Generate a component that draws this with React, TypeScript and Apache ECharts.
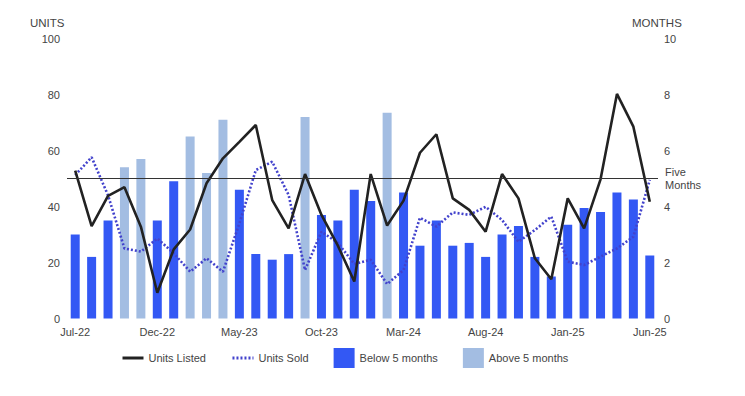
import React, { useEffect, useRef } from "react";
import * as echarts from "echarts";

const categories = [
  "Jul-22", "Aug-22", "Sep-22", "Oct-22", "Nov-22", "Dec-22",
  "Jan-23", "Feb-23", "Mar-23", "Apr-23", "May-23", "Jun-23",
  "Jul-23", "Aug-23", "Sep-23", "Oct-23", "Nov-23", "Dec-23",
  "Jan-24", "Feb-24", "Mar-24", "Apr-24", "May-24", "Jun-24",
  "Jul-24", "Aug-24", "Sep-24", "Oct-24", "Nov-24", "Dec-24",
  "Jan-25", "Feb-25", "Mar-25", "Apr-25", "May-25", "Jun-25",
];

// months of supply (right axis)
const monthsSupply = [
  3.0, 2.2, 3.5, 5.4, 5.7, 3.5, 4.9, 6.5, 5.2, 7.1, 4.6, 2.3,
  2.1, 2.3, 7.2, 3.7, 3.5, 4.6, 4.2, 7.35, 4.5, 2.6, 3.5, 2.6,
  2.7, 2.2, 3.0, 3.3, 2.2, 1.5, 3.35, 3.95, 3.8, 4.5, 4.25, 2.25,
];

// units (left axis)
const unitsListed = [
  52.8, 33, 43.8, 46.9, 32.8, 9.2, 24.7, 31.8, 48.3, 57.2, 63.1, 69.1,
  42.3, 32.2, 51.6, 37, 26, 13.2, 51.6, 33.2, 42.1, 59.2, 65.8, 42.9,
  38.8, 31, 51.6, 42.9, 21.5, 14, 42.9, 32.2, 49.7, 80.2, 68.5, 41.7,
];

const unitsSold = [
  51.2, 57.6, 44, 25, 23.9, 28.6, 23.3, 16.7, 21.5, 16.7, 34, 53,
  56, 44.1, 17.3, 31, 27, 19.5, 21, 12.3, 17.3, 36, 32.8, 37.9,
  37, 39.9, 35.2, 27.4, 31.6, 36.4, 20.3, 19.1, 22.1, 25, 29.2, 49.5,
];

const threshold = 5;
const leftTicks = { min: 0, max: 100, interval: 20 };
const rightTicks = { min: 0, max: 10, interval: 2 };

const FONT = "Arial, 'Liberation Sans', sans-serif";
const TEXT = "#444";
const FS = 11;
const DARK_BAR = "#3358f4";
const LIGHT_BAR = "#a3bde2";
const LISTED = "#222";
const SOLD = "#4242cc";

export default function App() {
  const ref = useRef<HTMLDivElement>(null);

  useEffect(() => {
    if (!ref.current) return;
    const chart = echarts.init(ref.current, undefined, { renderer: "svg" });
    const below = monthsSupply.map((v) => (v < threshold ? v : null));
    const above = monthsSupply.map((v) => (v >= threshold ? v : null));
    const hiddenSymbol = { color: "rgba(0,0,0,0)", opacity: 0, borderWidth: 0 };

    chart.setOption({
      animation: false,
      textStyle: { fontFamily: FONT },
      grid: { left: 67, right: 87, top: 38.5, bottom: 77.5 },
      graphic: [
        { type: "text", left: 30, top: 17, style: { text: "UNITS", fill: TEXT, font: `11.5px ${FONT}` } },
        { type: "text", left: 632, top: 17, style: { text: "MONTHS", fill: TEXT, font: `11.5px ${FONT}` } },
      ],
      legend: {
        left: 121,
        top: 348,
        padding: 0,
        itemWidth: 21,
        itemHeight: 20,
        itemGap: 25,
        selectedMode: false,
        textStyle: { color: TEXT, fontSize: FS, fontFamily: FONT },
        data: [
          { name: "Units Listed", itemStyle: hiddenSymbol, lineStyle: { color: LISTED, width: 3 } },
          { name: "Units Sold", itemStyle: hiddenSymbol, lineStyle: { color: SOLD, width: 3, type: [2, 2] } },
          { name: "Below 5 months", icon: "rect" },
          { name: "Above 5 months", icon: "rect" },
        ],
      },
      xAxis: {
        type: "category",
        data: categories,
        axisLine: { show: false },
        axisTick: { show: false },
        axisLabel: { interval: 4, color: TEXT, fontSize: FS, margin: 8, fontFamily: FONT },
        splitLine: { show: false },
      },
      yAxis: [
        {
          type: "value",
          ...leftTicks,
          axisLine: { show: false },
          axisTick: { show: false },
          splitLine: { show: false },
          axisLabel: { color: TEXT, fontSize: FS, margin: 7, fontFamily: FONT },
        },
        {
          type: "value",
          ...rightTicks,
          position: "right",
          axisLine: { show: false },
          axisTick: { show: false },
          splitLine: { show: false },
          axisLabel: { color: TEXT, fontSize: FS, margin: 6, fontFamily: FONT },
        },
      ],
      series: [
        {
          name: "Below 5 months",
          type: "bar",
          yAxisIndex: 1,
          data: below,
          barWidth: 9,
          barGap: "-100%",
          itemStyle: { color: DARK_BAR },
          z: 1,
          markLine: {
            silent: true,
            symbol: "none",
            lineStyle: { color: "#333", width: 1, type: "solid" },
            label: {
              show: true,
              position: "end",
              formatter: "Five\nMonths",
              color: TEXT,
              fontSize: FS,
              lineHeight: 13,
              fontFamily: FONT,
              distance: 7,
            },
            data: [{ yAxis: threshold }],
          },
        },
        {
          name: "Above 5 months",
          type: "bar",
          yAxisIndex: 1,
          data: above,
          barWidth: 9,
          barGap: "-100%",
          itemStyle: { color: LIGHT_BAR },
          z: 1,
        },
        {
          name: "Units Listed",
          type: "line",
          yAxisIndex: 0,
          data: unitsListed,
          symbol: "none",
          lineStyle: { color: LISTED, width: 2.6 },
          itemStyle: { color: LISTED },
          z: 3,
        },
        {
          name: "Units Sold",
          type: "line",
          yAxisIndex: 0,
          data: unitsSold,
          symbol: "none",
          lineStyle: { color: SOLD, width: 2.6, type: [2, 2] },
          itemStyle: { color: SOLD },
          z: 2,
        },
      ],
    });
    return () => chart.dispose();
  }, []);

  return (
    <div
      ref={ref}
      style={{ position: "fixed", left: 0, top: 0, width: 745, height: 396, background: "#fff" }}
    />
  );
}
